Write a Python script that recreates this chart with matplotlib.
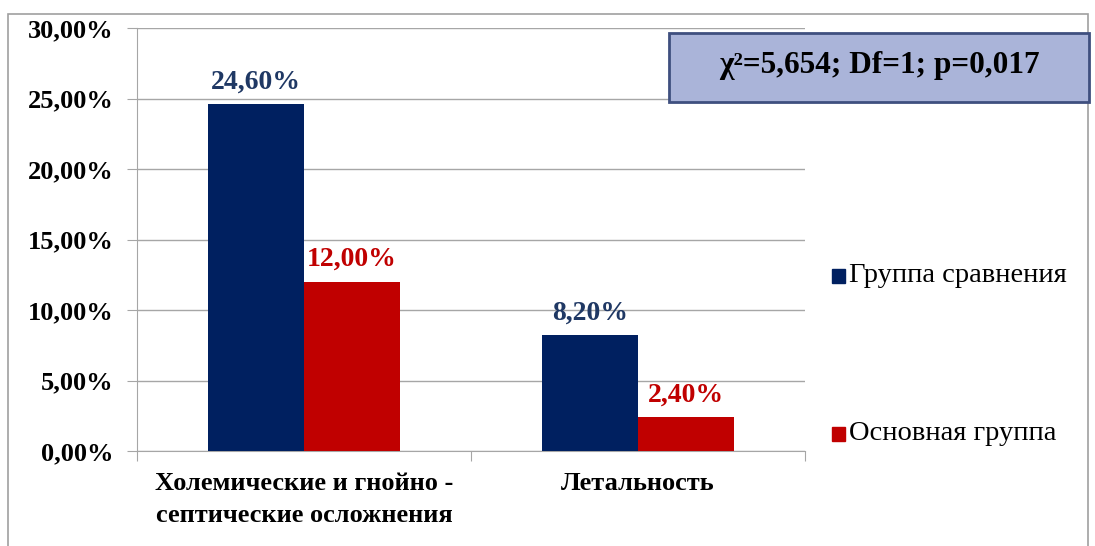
import numpy as np
import matplotlib.pyplot as plt
from matplotlib.patches import Rectangle, FancyBboxPatch

# data
categories = ["Холемические и гнойно -\nсептические осложнения", "Летальность"]
comparison = [24.6, 8.2]
main_group = [12.0, 2.4]
series_names = ["Группа сравнения", "Основная группа"]
y_ticks = [0, 5, 10, 15, 20, 25, 30]
stat_text = "χ²=5,654; Df=1; p=0,017"

navy = "#002060"
red = "#c00000"
grid_c = "#a6a6a6"

plt.rcParams['font.family'] = ['Liberation Serif', 'DejaVu Serif']

fig = plt.figure(figsize=(10.95, 5.46), dpi=100)
fig.patches.append(Rectangle((8 / 1095, -0.05), 1080 / 1095, 1.05 - 14 / 546,
                             transform=fig.transFigure, fill=False,
                             edgecolor="#a0a0a0", lw=1.2))

ax = fig.add_axes([137 / 1095, 95 / 546, 668 / 1095, 423 / 546])
x = np.arange(len(categories))
w = 0.287
b1 = ax.bar(x - w / 2, comparison, w, color=navy, label=series_names[0], zorder=3)
b2 = ax.bar(x + w / 2, main_group, w, color=red, label=series_names[1], zorder=3)

def fmt(v):
    return f"{v:.2f}".replace(".", ",") + "%"

for rect, v in zip(b1, comparison):
    ax.annotate(fmt(v), (rect.get_x() + rect.get_width() / 2, v), xytext=(0, 7),
                textcoords="offset points", ha="center", va="bottom",
                fontsize=20, fontweight="bold", color="#1f3864")
for rect, v in zip(b2, main_group):
    ax.annotate(fmt(v), (rect.get_x() + rect.get_width() / 2, v), xytext=(0, 7),
                textcoords="offset points", ha="center", va="bottom",
                fontsize=20, fontweight="bold", color=red)

ax.set_xlim(-0.5, len(categories) - 0.5)
ax.set_ylim(0, 30)
ax.set_yticks(y_ticks)
ax.set_yticklabels([fmt(t) for t in y_ticks], fontsize=19, fontweight="bold")
ax.yaxis.grid(True, color=grid_c, lw=1, zorder=0)
ax.tick_params(axis="y", length=7, color=grid_c, pad=10)

ax.set_xticks([-0.5, 0.5, 1.5])
ax.set_xticklabels([])
ax.tick_params(axis="x", length=7, color=grid_c, direction="out")
for i, c in enumerate(categories):
    ax.text(i, -1.5, c, ha="center", va="top", fontsize=19, fontweight="bold",
            linespacing=1.5)

for s in ["top", "right"]:
    ax.spines[s].set_visible(False)
for s in ["left", "bottom"]:
    ax.spines[s].set_color(grid_c)

# legend entries placed separately like the original
for name, col, yy in [(series_names[0], navy, 276), (series_names[1], red, 434)]:
    fig.patches.append(Rectangle((832 / 1095, 1 - (yy + 7) / 546), 13 / 1095, 14 / 546,
                                 transform=fig.transFigure, color=col))
    fig.text(849 / 1095, 1 - yy / 546, name, fontsize=20.5, va="center", ha="left")

# statistics box
box = FancyBboxPatch((669 / 1095, 1 - 102 / 546), 420 / 1095, 69 / 546,
                     boxstyle="square,pad=0", transform=fig.transFigure,
                     facecolor="#aab4d9", edgecolor="#3f4f7f", lw=2)
fig.patches.append(box)
fig.text(879 / 1095, 1 - 66 / 546, stat_text, ha="center", va="center",
         fontsize=22.5, fontweight="bold")

fig.savefig("out.png", dpi=100)
